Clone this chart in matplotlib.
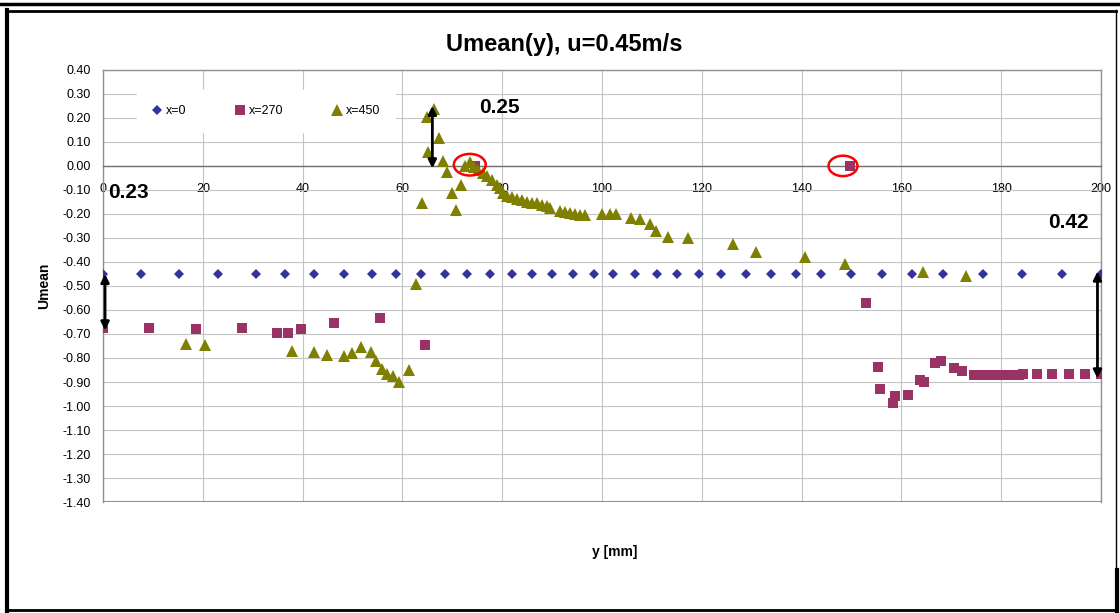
import matplotlib
matplotlib.use("Agg")
import matplotlib.pyplot as plt
from matplotlib.lines import Line2D
from matplotlib.patches import Ellipse
import numpy as np

plt.rcParams['font.family'] = ['Liberation Sans', 'DejaVu Sans']

# x=0 series
y0_pos = [0, 7.6, 15.3, 23.0, 30.7, 36.5, 42.3, 48.2, 54.0, 58.8, 63.7, 68.5,
          73.0, 77.5, 82.0, 86.0, 90.0, 94.2, 98.3, 102.3, 106.6, 111.0, 115.1,
          119.5, 123.8, 128.9, 133.8, 138.9, 143.9, 150.0, 156.1, 162.1, 168.4,
          176.3, 184.2, 192.2, 200.0]
u0 = [-0.45] * len(y0_pos)

# x=270 series
y270_pos = [0, 9.3, 18.7, 27.9, 34.9, 37.1, 39.7, 46.2, 55.6, 64.5, 74.5, 149.7,
            153.0, 155.4, 155.8, 158.8, 158.4, 161.4, 163.8, 164.5, 166.8, 168.0,
            170.6, 172.1, 174.5, 176.0, 177.5, 179.0, 180.5, 182.0, 183.5, 184.4,
            187.1, 190.2, 193.6, 196.8, 200.0]
u270 = [-0.676, -0.676, -0.68, -0.676, -0.697, -0.697, -0.68, -0.655, -0.635, -0.745,
        0.0, 0.0, -0.572, -0.839, -0.930, -0.958, -0.989, -0.955, -0.892, -0.901,
        -0.822, -0.813, -0.843, -0.855, -0.872, -0.872, -0.872, -0.872, -0.872,
        -0.872, -0.872, -0.868, -0.868, -0.868, -0.867, -0.868, -0.868]

# x=450 series
y450_pos = [16.6, 20.4, 37.9, 42.3, 44.8, 48.2, 49.9, 51.7, 53.7, 54.8, 55.9, 56.9,
            58.1, 59.3, 61.3, 62.7, 63.9, 65.2, 65.0, 66.4, 67.4, 68.2, 68.9, 69.9,
            70.7, 71.7, 72.5, 73.5, 74.3, 75.2, 76.1, 77.0, 77.9, 78.9, 79.6, 80.2,
            80.9, 81.9, 82.9, 83.9, 84.9, 85.9, 86.9, 87.9, 88.9, 89.6, 91.6, 92.6,
            93.6, 94.6, 95.6, 96.6, 99.9, 101.6, 102.9, 105.8, 107.6, 109.6, 110.8,
            113.2, 117.2, 126.3, 130.8, 140.7, 148.7, 164.4, 172.9]
u450 = [-0.742, -0.745, -0.769, -0.774, -0.789, -0.792, -0.778, -0.753, -0.775, -0.812,
        -0.847, -0.867, -0.875, -0.899, -0.850, -0.493, -0.156, 0.057, 0.205, 0.236,
        0.118, 0.021, -0.024, -0.111, -0.183, -0.079, 0.001, 0.018, -0.003, -0.017,
        -0.030, -0.044, -0.058, -0.079, -0.093, -0.114, -0.125, -0.131, -0.138,
        -0.142, -0.149, -0.153, -0.156, -0.163, -0.169, -0.176, -0.186, -0.193,
        -0.197, -0.200, -0.206, -0.206, -0.200, -0.200, -0.200, -0.219, -0.222,
        -0.243, -0.270, -0.295, -0.299, -0.325, -0.357, -0.380, -0.410, -0.443, -0.458]

fig = plt.figure(figsize=(11.2, 6.13), dpi=100)
ax = fig.add_axes([0.092, 0.181, 0.891, 0.705])

ax.plot(y0_pos, u0, linestyle='none', marker='D', markersize=5.5,
        color='#333399', markeredgewidth=0, label='x=0', zorder=3)
ax.plot(y270_pos, u270, linestyle='none', marker='s', markersize=7,
        color='#993366', markeredgewidth=0, label='x=270', zorder=3)
ax.plot(y450_pos, u450, linestyle='none', marker='^', markersize=8.5,
        color='#808000', markeredgewidth=0, label='x=450', zorder=4)

ax.set_xlim(0, 200)
ax.set_ylim(-1.4, 0.4)
ax.set_xticks(np.arange(0, 201, 20))
ax.set_yticks(np.arange(-1.4, 0.401, 0.1))
ax.yaxis.set_major_formatter(plt.FormatStrFormatter('%.2f'))
ax.tick_params(length=0, labelsize=9)
ax.tick_params(axis='y', pad=9)
ax.tick_params(axis='x', pad=12)
ax.grid(True, color='#c4c4c4', linewidth=0.8)
ax.set_axisbelow(True)

ax.spines['bottom'].set_position(('data', 0))
ax.spines['bottom'].set_color('#707070')
ax.spines['bottom'].set_linewidth(1.0)
for s in ['left', 'top', 'right']:
    ax.spines[s].set_color('#909090')
    ax.spines[s].set_linewidth(1.0)
ax.axhline(-1.4, color='#909090', linewidth=1.5, zorder=2)

fig.text(0.504, 1 - 45 / 613, 'Umean(y), u=0.45m/s', fontsize=17, fontweight='bold',
         ha='center', va='center')
ax.set_ylabel('Umean', fontsize=10, fontweight='bold', labelpad=8)
fig.text(0.549, 0.1, 'y [mm]', fontsize=10, fontweight='bold',
         ha='center', va='center')

leg = ax.legend(loc='center', bbox_to_anchor=(0.163, 0.905), ncol=3,
                fontsize=9, handlelength=0.8, handletextpad=0.3,
                columnspacing=3.9, borderpad=1.2, frameon=True,
                facecolor='white', edgecolor='white', framealpha=1.0)

# annotations
bold = dict(fontsize=15, fontweight='bold')
ax.text(1.0, -0.11, '0.23', ha='left', va='center', **bold)
ax.text(75.3, 0.245, '0.25', ha='left', va='center', **bold)
ax.text(189.5, -0.235, '0.42', ha='left', va='center', **bold)

arrow = dict(arrowstyle='<|-|>', color='black', lw=2, mutation_scale=12,
             shrinkA=0, shrinkB=0)
ax.annotate('', xy=(0.4, -0.45), xytext=(0.4, -0.685), arrowprops=arrow, zorder=5)
ax.annotate('', xy=(66.0, 0.25), xytext=(66.0, -0.01), arrowprops=arrow, zorder=5)
ax.annotate('', xy=(199.3, -0.44), xytext=(199.3, -0.885), arrowprops=arrow, zorder=5)

ax.add_patch(Ellipse((73.5, 0.005), 6.4, 0.09, fill=False, edgecolor='red',
                     linewidth=1.8, zorder=6))
ax.add_patch(Ellipse((148.3, 0.0), 5.8, 0.085, fill=False, edgecolor='red',
                     linewidth=1.8, zorder=6))

# outer border of the chart
W, H = 1120, 613
def fline(x0, y0, x1, y1, lw):
    fig.add_artist(Line2D([x0 / W, x1 / W], [1 - y0 / H, 1 - y1 / H],
                          color='black', linewidth=lw))

fline(0, 4, 1120, 4, 2.5)
fline(7, 11, 1116, 11, 2.0)
fline(7, 10, 7, 611, 3.0)
fline(7, 610, 1116, 610, 2.0)
fline(1116, 10, 1116, 610, 1.0)
fline(1117, 570, 1117, 611, 3.0)

fig.savefig('out.png', dpi=100)
